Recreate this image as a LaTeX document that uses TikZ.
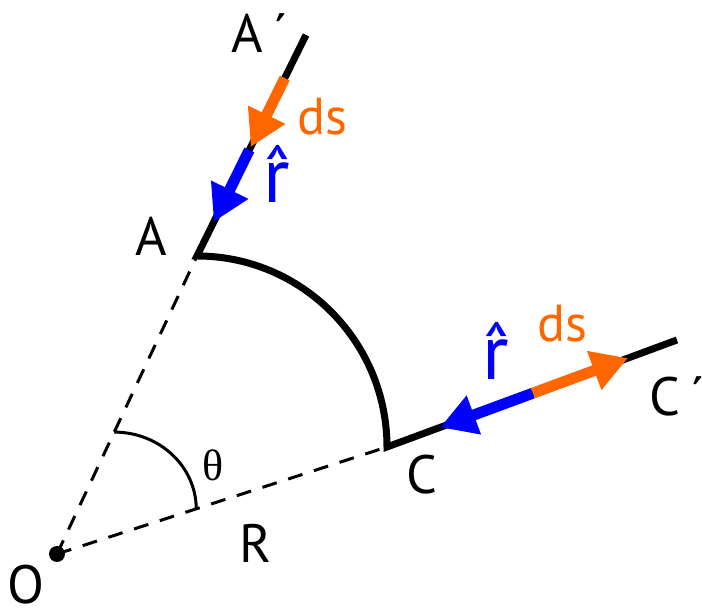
\documentclass[tikz,border=0pt]{standalone}
\usepackage{fontspec}
\setmainfont{PT Sans}
\newfontfamily\greekfont{Liberation Serif}
\usetikzlibrary{arrows.meta, calc}
\definecolor{dsOrange}{HTML}{FF6600}
\definecolor{rBlue}{HTML}{0000FF}
\newcommand{\unitr}{\ooalign{r\cr\hidewidth ˆ\hidewidth\cr}}

\begin{document}
\begin{tikzpicture}[x=0.5pt, y=0.5pt,
    lbl/.style={inner sep=0pt, font=\fontsize{27}{30}\selectfont},
    vlbl/.style={inner sep=0pt, text=#1, font=\fontsize{26}{29}\selectfont},
    rlbl/.style={inner sep=0pt, text=rBlue, font=\fontsize{39}{42}\selectfont},
    wire/.style={line width=3.5pt},
    guide/.style={line width=1.5pt, dash pattern=on 7.5pt off 6pt},
    vec/.style={draw=#1, line width=5.5pt,
                -{Triangle[length=18pt, width=19.5pt]}},
  ]
    \useasboundingbox (0,0) rectangle (702,608);

    \coordinate (O) at (57,54);
    \coordinate (A) at (197,352);
    \coordinate (Ap) at (306,573);
    \coordinate (C) at (387,161);
    \coordinate (Cp) at (677,268);

    % radii and angle
    \draw[guide] (O) -- (A);
    \draw[guide] (O) -- (C);
    \coordinate (th) at ($(O)!0.409!(A)$);
    \draw[line width=1.5pt] (th) arc[start angle=90, end angle=0,
                                     x radius=41pt, y radius=38.5pt];
    \fill (O) circle (4pt);

    % path A' - A - C - C'
    \draw[wire] (Ap) -- (A) arc[start angle=90, end angle=0,
                               x radius=95pt, y radius=95.5pt] -- (Cp);

    % vectors
    \coordinate (dsA1) at ($(A)!0.805!(Ap)$);
    \coordinate (dsA2) at ($(A)!0.493!(Ap)$);
    \coordinate (rA1) at ($(A)!0.48!(Ap)$);
    \coordinate (rA2) at ($(A)!0.154!(Ap)$);
    \draw[vec=dsOrange] (dsA1) -- (dsA2);
    \draw[vec=rBlue] (rA1) -- (rA2);

    \coordinate (rC1) at ($(C)!0.503!(Cp)$);
    \coordinate (rC2) at ($(C)!0.183!(Cp)$);
    \coordinate (dsC2) at ($(C)!0.831!(Cp)$);
    \draw[vec=rBlue] (rC1) -- (rC2);
    \draw[vec=dsOrange] (rC1) -- (dsC2);

    % labels
    \node[lbl, anchor=west] (labAp) at (231,575) {A\hspace{0.2em}´};
    \node[lbl] (labA) at (151,372) {A};
    \node[lbl] (labC) at (422,133) {C};
    \node[lbl, anchor=west] (labCp) at (649,212) {C\hspace{0.2em}´};
    \node[lbl] (labO) at (26,23) {O};
    \node[lbl] (labR) at (256,65) {R};
    \node[lbl, font=\greekfont\fontsize{22}{26}\selectfont] (labth) at (213,143) {θ};
    \node[vlbl=dsOrange] (dsAlab) at (322,491) {ds};
    \node[vlbl=dsOrange] (dsClab) at (562,284) {ds};
    \node[rlbl] (rAlab) at (277,425) {\unitr};
    \node[rlbl] (rClab) at (496,248) {\unitr};
\end{tikzpicture}
\end{document}
